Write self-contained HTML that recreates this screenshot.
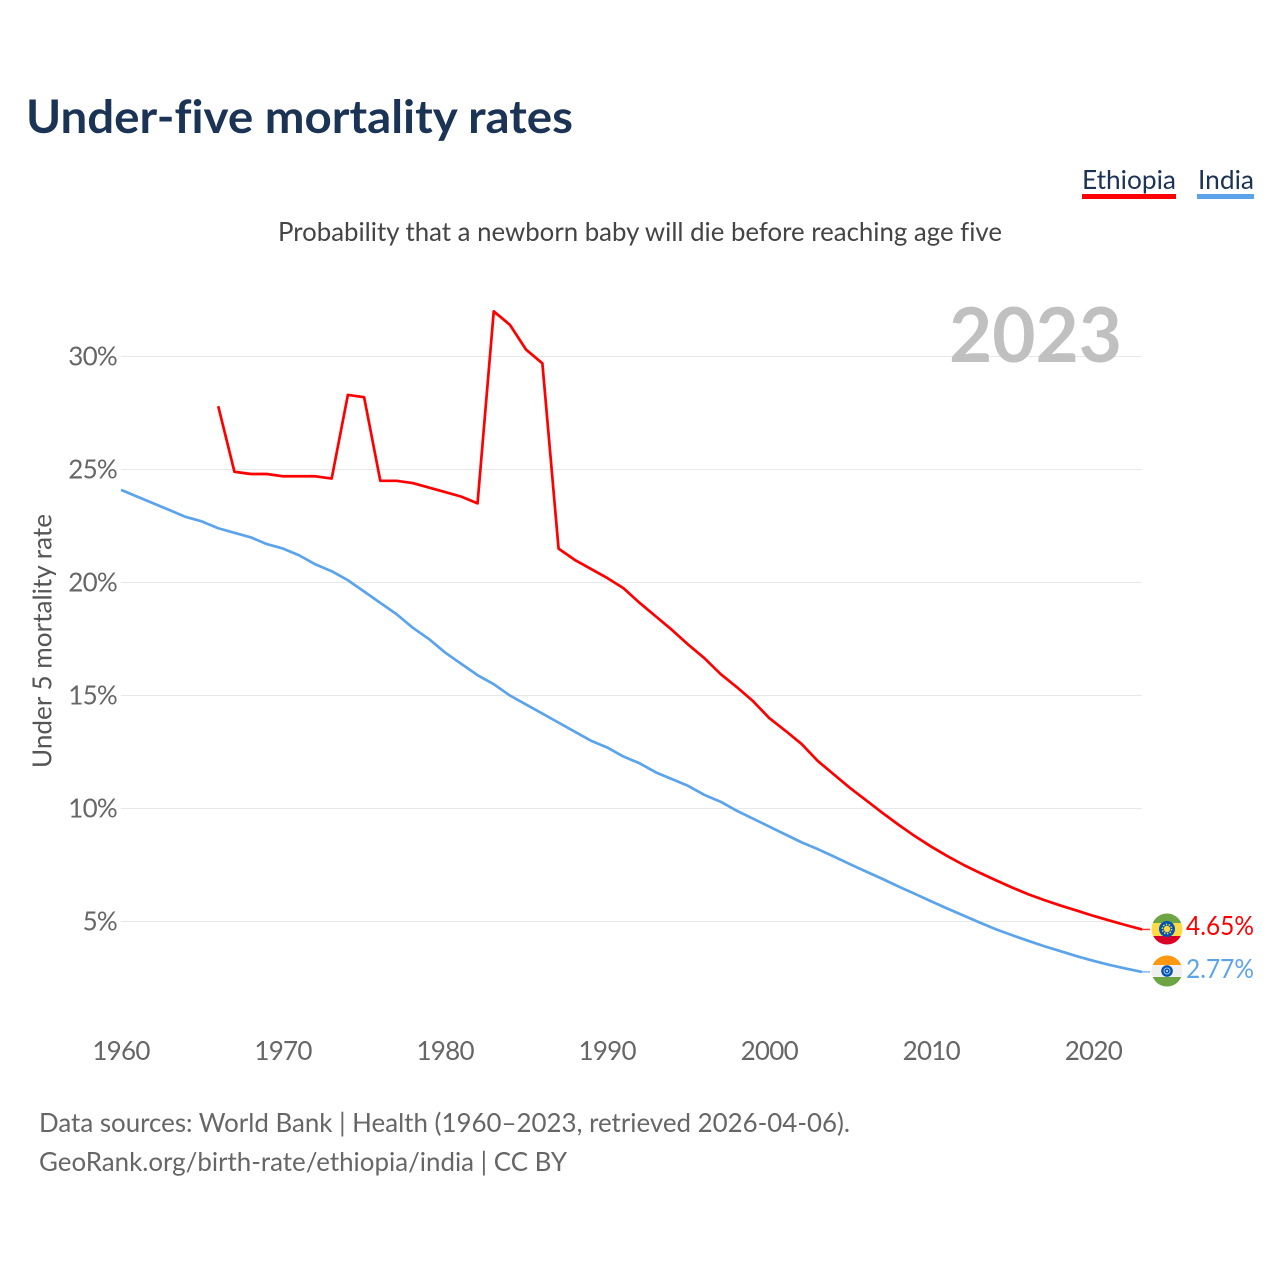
<!DOCTYPE html>
<html>
<head>
<meta charset="utf-8">
<title>Under-five mortality rates</title>
<style>
html,body{margin:0;padding:0;background:#fff;width:1280px;height:1280px;overflow:hidden}
svg{display:block}
text{font-family:"Lato","Carlito","Liberation Sans",sans-serif;font-variant-ligatures:none}
.tick{letter-spacing:-0.75px}
</style>
</head>
<body>
<svg id="chart" width="1280" height="1280" viewBox="0 0 1280 1280" xmlns="http://www.w3.org/2000/svg">
  <rect width="1280" height="1280" fill="#fff"/>
  <text x="26" y="133" font-size="46" font-weight="700" fill="#1b3354" textLength="547" lengthAdjust="spacingAndGlyphs">Under-five mortality rates</text>
  <text x="278" y="241" font-size="26" fill="#444" textLength="724" lengthAdjust="spacingAndGlyphs">Probability that a newborn baby will die before reaching age five</text>

  <g>
    <g>
      <text x="1082" y="189" font-size="26" fill="#1b3354" textLength="94" lengthAdjust="spacingAndGlyphs">Ethiopia</text>
      <rect x="1082" y="194" width="94" height="5" fill="#ff0000"/>
    </g>
    <g>
      <text x="1198" y="189" font-size="26" fill="#1b3354" textLength="56" lengthAdjust="spacingAndGlyphs">India</text>
      <rect x="1197" y="194" width="57" height="5" fill="#5ba4ec"/>
    </g>
  </g>

  <g id="grid"></g>
  <text x="1122" y="362" font-size="76" font-weight="700" fill="#c0c0c0" text-anchor="end" textLength="173" lengthAdjust="spacingAndGlyphs">2023</text>
  <g id="yticks"></g>
  <g id="xticks"></g>
  <text transform="translate(51.5 641) rotate(-90)" font-size="26" fill="#555" text-anchor="middle" textLength="254" lengthAdjust="spacingAndGlyphs">Under 5 mortality rate</text>
  <g id="series"></g>

  <defs>
    <clipPath id="clip-et"><circle cx="1167" cy="929" r="15.5"/></clipPath>
    <clipPath id="clip-in"><circle cx="1167" cy="971" r="15.5"/></clipPath>
  </defs>
  <g clip-path="url(#clip-et)">
    <rect x="1151" y="913" width="32" height="10" fill="#6da544"/>
    <rect x="1151" y="923" width="32" height="13" fill="#ffda44"/>
    <rect x="1151" y="936" width="32" height="9" fill="#d80027"/>
    <circle cx="1167" cy="929" r="8" fill="#0052b4"/>
    <circle cx="1167" cy="929" r="3.2" fill="#ffda44"/>
    <circle cx="1167" cy="929" r="4.6" fill="none" stroke="#ffda44" stroke-width="1.6" stroke-dasharray="1.4 1.5"/>
  </g>
  <g clip-path="url(#clip-in)">
    <rect x="1151" y="955" width="32" height="10" fill="#ff9811"/>
    <rect x="1151" y="965" width="32" height="12" fill="#f0f0f0"/>
    <rect x="1151" y="977" width="32" height="11" fill="#6da544"/>
    <circle cx="1167" cy="971" r="5.8" fill="#0052b4"/>
    <circle cx="1167" cy="971" r="3" fill="none" stroke="#a9c4e8" stroke-width="1"/>
    <circle cx="1167" cy="971" r="1" fill="#f0f0f0"/>
  </g>
  <text x="1186" y="935" font-size="26" fill="#ff0000" textLength="68" lengthAdjust="spacingAndGlyphs">4.65%</text>
  <text x="1186" y="978" font-size="26" fill="#5ba4ec" textLength="68" lengthAdjust="spacingAndGlyphs">2.77%</text>

  <g>
    <text x="39" y="1132" font-size="26" fill="#666" textLength="811" lengthAdjust="spacingAndGlyphs">Data sources: World Bank | Health (1960–2023, retrieved 2026-04-06).</text>
    <text x="39" y="1171" font-size="26" fill="#666" textLength="528" lengthAdjust="spacingAndGlyphs">GeoRank.org/birth-rate/ethiopia/india | CC BY</text>
  </g>
</svg>
<script>
const yTickValues = [5, 10, 15, 20, 25, 30];
const xTickValues = [1960, 1970, 1980, 1990, 2000, 2010, 2020];
const ethiopiaStartYear = 1966;
const ethiopiaValues = [27.8,24.9,24.8,24.8,24.7,24.7,24.7,24.6,28.3,28.2,24.5,24.5,24.4,24.2,24.0,23.8,23.5,32.0,31.4,30.3,29.7,21.5,21.0,20.6,20.2,19.75,19.1,18.5,17.9,17.25,16.65,15.95,15.37,14.75,14.0,13.44,12.85,12.1,11.5,10.9,10.35,9.8,9.27,8.77,8.31,7.89,7.5,7.15,6.82,6.5,6.2,5.94,5.7,5.48,5.25,5.04,4.84,4.65];
const indiaStartYear = 1960;
const indiaValues = [24.1,23.8,23.5,23.2,22.9,22.7,22.4,22.2,22.0,21.7,21.5,21.2,20.8,20.5,20.1,19.6,19.1,18.6,18.0,17.5,16.9,16.4,15.9,15.5,15.0,14.6,14.2,13.8,13.4,13.0,12.7,12.3,12.0,11.6,11.3,11.0,10.6,10.3,9.9,9.55,9.2,8.85,8.5,8.2,7.87,7.53,7.2,6.88,6.54,6.22,5.89,5.57,5.26,4.95,4.65,4.39,4.14,3.9,3.68,3.46,3.26,3.08,2.92,2.77];

const NS = 'http://www.w3.org/2000/svg';
function xScale(year) { return 121 + (year - 1960) * (1142 - 121) / 63; }
function yScale(v) { return 921.5 - (v - 5) * (921.5 - 356.5) / 25; }

const gridGroup = document.getElementById('grid');
const yTickGroup = document.getElementById('yticks');
const xTickGroup = document.getElementById('xticks');
const seriesGroup = document.getElementById('series');

yTickValues.forEach(function (v) {
  const line = document.createElementNS(NS, 'line');
  
  
  line.setAttribute('x1', 121);
  line.setAttribute('x2', 1142);
  line.setAttribute('y1', yScale(v));
  line.setAttribute('y2', yScale(v));
  line.setAttribute('stroke', '#e8e8e8');
  line.setAttribute('stroke-width', '1');
  gridGroup.appendChild(line);

  const label = document.createElementNS(NS, 'text');
  
  
  label.setAttribute('class', 'tick');
  label.setAttribute('x', 117);
  label.setAttribute('y', yScale(v) + 9);
  label.setAttribute('text-anchor', 'end');
  label.setAttribute('font-size', '26');
  label.setAttribute('fill', '#666');
  label.textContent = v + '%';
  yTickGroup.appendChild(label);
});

xTickValues.forEach(function (year) {
  const label = document.createElementNS(NS, 'text');
  
  
  label.setAttribute('class', 'tick');
  label.setAttribute('x', xScale(year));
  label.setAttribute('y', 1060);
  label.setAttribute('text-anchor', 'middle');
  label.setAttribute('font-size', '26');
  label.setAttribute('fill', '#666');
  label.textContent = year;
  xTickGroup.appendChild(label);
});

function pointsFor(startYear, values) {
  return values.map(function (v, i) {
    return xScale(startYear + i).toFixed(2) + ',' + yScale(v).toFixed(2);
  }).join(' ');
}

const ethiopiaLine = document.createElementNS(NS, 'polyline');


ethiopiaLine.setAttribute('points', pointsFor(ethiopiaStartYear, ethiopiaValues));
ethiopiaLine.setAttribute('fill', 'none');
ethiopiaLine.setAttribute('stroke', '#ff0000');
ethiopiaLine.setAttribute('stroke-width', '2.7');
ethiopiaLine.setAttribute('stroke-linejoin', 'round');
seriesGroup.appendChild(ethiopiaLine);

const indiaLine = document.createElementNS(NS, 'polyline');


indiaLine.setAttribute('points', pointsFor(indiaStartYear, indiaValues));
indiaLine.setAttribute('fill', 'none');
indiaLine.setAttribute('stroke', '#5ba4ec');
indiaLine.setAttribute('stroke-width', '2.7');
indiaLine.setAttribute('stroke-linejoin', 'round');
seriesGroup.appendChild(indiaLine);

const ethiopiaConnector = document.createElementNS(NS, 'line');


ethiopiaConnector.setAttribute('x1', xScale(2023));
ethiopiaConnector.setAttribute('x2', 1150);
ethiopiaConnector.setAttribute('y1', yScale(ethiopiaValues[ethiopiaValues.length - 1]));
ethiopiaConnector.setAttribute('y2', yScale(ethiopiaValues[ethiopiaValues.length - 1]));
ethiopiaConnector.setAttribute('stroke', '#ff0000');
ethiopiaConnector.setAttribute('stroke-width', '1.5');
ethiopiaConnector.setAttribute('stroke-opacity', '0.8');
seriesGroup.appendChild(ethiopiaConnector);

const indiaConnector = document.createElementNS(NS, 'line');


indiaConnector.setAttribute('x1', xScale(2023));
indiaConnector.setAttribute('x2', 1150);
indiaConnector.setAttribute('y1', yScale(indiaValues[indiaValues.length - 1]));
indiaConnector.setAttribute('y2', yScale(indiaValues[indiaValues.length - 1]));
indiaConnector.setAttribute('stroke', '#5ba4ec');
indiaConnector.setAttribute('stroke-width', '1.5');
indiaConnector.setAttribute('stroke-opacity', '0.8');
seriesGroup.appendChild(indiaConnector);
</script>
</body>
</html>
